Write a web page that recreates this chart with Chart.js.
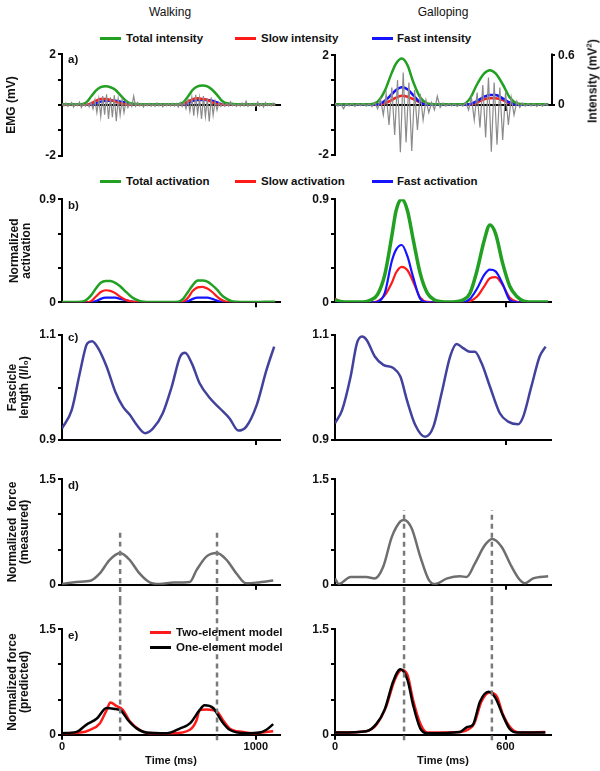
<!DOCTYPE html>
<html><head><meta charset="utf-8">
<title>Walking vs galloping: EMG, activation, fascicle length, force</title>
<style>
body{margin:0;width:600px;height:771px;position:relative;background:#fff;overflow:hidden;font-family:'Liberation Sans',Arial,sans-serif;color:#111}
canvas{position:absolute}
.c{position:absolute;transform:translate(-50%,-50%);white-space:nowrap}
.lg{position:absolute;font:bold 11.5px 'Liberation Sans',Arial,sans-serif;line-height:14px;white-space:nowrap}
.sw{position:absolute;height:3px;width:21px}
</style>
</head>
<body>
<div class="c" style="left:170px;top:12px;font-size:12px">Walking</div>
<div class="c" style="left:443px;top:12px;font-size:12px">Galloping</div>

<div class="sw" style="left:100px;top:36.5px;background:#22a022"></div><div class="lg" style="left:126px;top:31px">Total intensity</div>
<div class="sw" style="left:235px;top:36.5px;background:#ff1a1a"></div><div class="lg" style="left:261px;top:31px">Slow intensity</div>
<div class="sw" style="left:372px;top:36.5px;background:#1414ff"></div><div class="lg" style="left:397px;top:31px">Fast intensity</div>

<div class="sw" style="left:100px;top:179.5px;background:#22a022"></div><div class="lg" style="left:126px;top:174px">Total activation</div>
<div class="sw" style="left:235px;top:179.5px;background:#ff1a1a"></div><div class="lg" style="left:261px;top:174px">Slow activation</div>
<div class="sw" style="left:372px;top:179.5px;background:#1414ff"></div><div class="lg" style="left:397px;top:174px">Fast activation</div>

<canvas id="wa" width="300" height="120" style="left:0;top:45px"></canvas>
<canvas id="ga" width="300" height="120" style="left:300px;top:45px"></canvas>
<canvas id="wb" width="300" height="125" style="left:0;top:190px"></canvas>
<canvas id="gb" width="300" height="125" style="left:300px;top:190px"></canvas>
<canvas id="wc" width="300" height="130" style="left:0;top:325px"></canvas>
<canvas id="gc" width="300" height="130" style="left:300px;top:325px"></canvas>
<canvas id="wd" width="300" height="135" style="left:0;top:465px"></canvas>
<canvas id="gd" width="300" height="135" style="left:300px;top:465px"></canvas>
<canvas id="we" width="300" height="171" style="left:0;top:600px"></canvas>
<canvas id="ge" width="300" height="171" style="left:300px;top:600px"></canvas>

<div class="c" style="left:592px;top:81px;transform:translate(-50%,-50%) rotate(-90deg);font:bold 12px 'Liberation Sans',Arial,sans-serif">Intensity (mV<sup style="font-size:8px">2</sup>)</div>

<div class="lg" style="left:68px;top:51.5px">a)</div>
<div class="lg" style="left:68px;top:198px">b)</div>
<div class="lg" style="left:68px;top:330px">c)</div>
<div class="lg" style="left:68px;top:478px">d)</div>
<div class="lg" style="left:68px;top:627.5px">e)</div>

<div class="sw" style="left:150px;top:630.5px;background:#ff1a1a"></div><div class="lg" style="left:176px;top:625px">Two-element model</div>
<div class="sw" style="left:150px;top:645.5px;background:#000"></div><div class="lg" style="left:176px;top:640px">One-element model</div>

<script src="https://cdn.jsdelivr.net/npm/chart.js"></script>
<script>
// ---------- walking ----------
const walkEmgStep = 10; // ms between raw EMG samples
const walkEmg = [0.05,-0.04,0.08,-0.06,0.03,0.10,-0.08,0.06,-0.03,0.12,-0.10,0.04,-0.05,0.09,-0.07,
  0.10,-0.15,0.20,-0.30,0.25,-0.45,0.35,-0.38,0.42,-0.55,0.30,-0.48,0.38,-0.64,0.25,-0.40,0.20,-0.30,0.12,-0.10,
  0.08,-0.06,0.35,-0.05,0.10,-0.04,0.06,-0.08,0.05,-0.03,0.07,-0.05,0.04,-0.06,0.08,-0.04,0.05,-0.07,0.06,-0.03,0.05,-0.04,0.07,-0.05,0.06,-0.08,0.10,-0.06,0.12,-0.15,
  0.20,-0.25,0.30,-0.42,0.40,-0.35,0.28,-0.55,0.35,-0.45,0.25,-0.65,0.30,-0.40,0.15,-0.20,
  0.10,-0.06,0.08,-0.05,0.06,-0.04,0.12,-0.03,0.05,-0.06,0.04,-0.05,0.08,-0.04,0.15,-0.06,0.05,-0.03,0.07,-0.05,0.12,-0.04,0.06,-0.08,0.10,-0.03,0.05,-0.04,0.08,-0.02];
const walkIntT = [0,50,100,125,150,175,200,225,250,275,300,325,350,400,500,600,625,650,675,700,725,750,775,800,825,850,900,1000,1100];
const walkIntTotal = [0.01,0.01,0.01,0.03,0.10,0.17,0.21,0.22,0.21,0.18,0.12,0.06,0.02,0.01,0.01,0.01,0.03,0.10,0.18,0.22,0.23,0.22,0.18,0.12,0.05,0.02,0.01,0.01,0.01];
const walkIntSlow = [0.005,0.005,0.005,0.005,0.02,0.05,0.07,0.07,0.06,0.04,0.02,0.01,0.005,0.005,0.005,0.005,0.01,0.04,0.07,0.08,0.07,0.06,0.03,0.01,0.005,0.005,0.005,0.005,0.005];
const walkIntFast = [0.005,0.005,0.005,0.005,0.005,0.02,0.04,0.05,0.05,0.05,0.04,0.03,0.01,0.005,0.005,0.005,0.005,0.02,0.05,0.06,0.06,0.06,0.05,0.03,0.01,0.005,0.005,0.005,0.005];
const walkActT = [0,50,100,125,150,175,200,225,250,275,300,325,350,375,400,425,450,500,550,600,625,650,675,700,725,750,775,800,825,850,875,900,950,1000,1050,1100];
const walkActTotal = [0.003,0.003,0.005,0.02,0.06,0.12,0.17,0.187,0.185,0.17,0.14,0.10,0.06,0.03,0.012,0.004,0.002,0.002,0.003,0.005,0.03,0.09,0.15,0.19,0.19,0.18,0.15,0.11,0.06,0.03,0.01,0.004,0.002,0.002,0.005,0.005];
const walkActSlow = [0,0,0,0,0.01,0.05,0.09,0.105,0.10,0.08,0.05,0.025,0.01,0.003,0,0,0,0,0,0,0.005,0.04,0.10,0.13,0.135,0.12,0.09,0.05,0.02,0.005,0,0,0,0,0,0];
const walkActFast = [0,0,0,0,0,0.01,0.03,0.04,0.04,0.04,0.03,0.02,0.01,0.003,0,0,0,0,0,0,0,0.01,0.03,0.04,0.04,0.04,0.03,0.015,0.005,0,0,0,0,0,0,0];
const walkFasT = [0,50,95,130,155,185,230,275,315,350,385,430,470,520,565,610,635,670,710,765,815,865,910,950,1005,1055,1095];
const walkFas = [0.922,0.957,1.033,1.084,1.088,1.076,1.040,0.992,0.963,0.948,0.929,0.913,0.922,0.951,1.000,1.059,1.066,1.046,1.008,0.979,0.960,0.941,0.918,0.925,0.967,1.033,1.078];
const walkForceT = [0,75,150,195,245,300,350,400,455,505,575,660,695,745,800,850,900,950,1005,1090];
const walkForce = [0.01,0.04,0.06,0.16,0.35,0.45,0.35,0.16,0.03,0.01,0.03,0.04,0.21,0.40,0.45,0.35,0.16,0.02,0.03,0.06];
const walkTwoT = [0,95,145,195,230,250,280,315,350,400,455,575,660,695,710,745,800,830,865,935,985,1090];
const walkTwo = [0.02,0.03,0.07,0.16,0.35,0.46,0.41,0.35,0.19,0.07,0.02,0.02,0.07,0.21,0.35,0.36,0.33,0.21,0.09,0.04,0.02,0.05];
const walkOneT = [0,75,125,180,230,265,305,340,385,435,540,610,660,710,735,780,825,865,950,1020,1055,1090];
const walkOne = [0.02,0.04,0.14,0.23,0.38,0.37,0.34,0.21,0.09,0.03,0.02,0.09,0.16,0.35,0.42,0.38,0.19,0.07,0.02,0.03,0.07,0.15];
const walkPeakT = [300, 800];

// ---------- galloping ----------
const gallEmgStep = 10;
const gallEmg = [0.08,-0.05,0.06,-0.15,0.05,-0.04,0.07,-0.06,0.05,-0.03,0.06,-0.05,0.04,-0.06,
  0.10,-0.15,0.25,-0.40,0.45,-0.80,0.70,-1.20,1.00,-1.90,1.30,-1.50,0.90,-1.85,0.60,-1.00,0.45,-0.60,0.20,-0.30,
  0.10,-0.20,0.35,-0.10,0.08,-0.05,0.06,-0.04,0.05,-0.06,0.04,-0.05,0.10,
  -0.20,0.30,-0.60,0.50,-0.90,0.80,-1.30,1.10,-1.88,0.90,-1.60,0.70,-1.40,0.50,-0.80,0.30,-0.40,0.15,
  -0.10,0.08,-0.05,0.06,-0.04,0.05,-0.06,0.04,-0.05,0.06,-0.03];
const gallIntT = [0,50,100,125,150,175,200,215,235,255,275,300,325,350,400,450,475,500,525,545,565,590,615,640,670,700,750];
const gallIntTotal = [0.01,0.01,0.01,0.01,0.04,0.17,0.39,0.50,0.56,0.48,0.28,0.09,0.02,0.01,0.01,0.01,0.08,0.25,0.38,0.42,0.38,0.25,0.09,0.02,0.01,0.01,0.01];
const gallIntFast = [0.005,0.005,0.005,0.005,0.005,0.05,0.13,0.18,0.215,0.19,0.12,0.03,0.005,0.005,0.005,0.005,0.01,0.05,0.10,0.12,0.12,0.08,0.03,0.005,0.005,0.005,0.005];
const gallIntSlow = [0.005,0.005,0.005,0.005,0.005,0.02,0.06,0.09,0.11,0.10,0.07,0.03,0.01,0.005,0.005,0.005,0.005,0.03,0.07,0.08,0.08,0.06,0.02,0.01,0.005,0.005,0.005];
const gallActT = [0,25,50,100,125,150,175,200,215,235,255,275,300,325,350,375,400,425,450,475,500,525,545,565,590,615,640,665,700,750];
const gallActTotal = [0.02,0.005,0.002,0.003,0.02,0.07,0.24,0.58,0.80,0.90,0.80,0.55,0.25,0.08,0.02,0.005,0.002,0.005,0.02,0.08,0.28,0.54,0.675,0.60,0.34,0.14,0.05,0.01,0.002,0.002];
const gallActFast = [0,0,0,0,0,0.005,0.08,0.36,0.46,0.50,0.40,0.22,0.03,0,0,0,0,0,0,0.03,0.12,0.24,0.285,0.27,0.16,0.02,0,0,0,0];
const gallActSlow = [0.03,0.005,0,0,0,0.01,0.06,0.17,0.26,0.31,0.28,0.18,0.04,0.003,0,0,0,0,0,0.01,0.05,0.14,0.21,0.22,0.15,0.04,0.005,0,0,0];
const gallFasT = [0,25,55,77,95,112,140,170,205,230,253,282,317,346,375,405,428,451,475,492,516,545,580,609,644,662,691,720,741];
const gallFas = [0.932,0.957,1.021,1.084,1.097,1.090,1.059,1.043,1.037,1.021,0.976,0.929,0.906,0.925,0.989,1.059,1.083,1.075,1.068,1.068,1.046,1.002,0.951,0.935,0.930,0.944,1.002,1.059,1.078];
const gallForceT = [0,13,55,110,140,170,200,230,243,270,300,330,352,395,440,463,492,527,553,586,621,650,668,697,750];
const gallForce = [0.09,0.01,0.11,0.11,0.09,0.26,0.68,0.90,0.92,0.80,0.40,0.07,0.01,0.09,0.12,0.11,0.30,0.56,0.65,0.54,0.26,0.07,0.02,0.09,0.12];
const gallTwoT = [0,110,145,180,210,235,255,275,300,325,440,475,490,515,545,570,590,620,650,740];
const gallTwo = [0.03,0.05,0.14,0.40,0.78,0.92,0.85,0.49,0.16,0.03,0.04,0.09,0.16,0.47,0.60,0.54,0.30,0.09,0.03,0.04];
const gallOneT = [0,110,145,175,205,230,255,275,300,325,440,465,485,510,540,565,590,615,640,740];
const gallOne = [0.03,0.05,0.15,0.36,0.76,0.93,0.78,0.42,0.09,0.02,0.04,0.11,0.14,0.47,0.61,0.52,0.28,0.08,0.03,0.03];
const gallPeakT = [243, 552];

const GREEN = '#22a022', RED = '#ff1a1a', BLUE = '#1414ff', EMG = '#8a8a8a', FAS = '#42429e', FORCE = '#6e6e6e', DASH = '#7a7a7a';

Chart.defaults.font.family = "'Liberation Sans', Arial, sans-serif";
Chart.defaults.color = '#111';

const pts = (xs, ys) => xs.map((x, i) => ({x: x, y: ys[i]}));
const stepPts = (step, ys) => ys.map((y, i) => ({x: i * step, y: y}));

function line(data, color, width, extra) {
  return Object.assign({data: data, borderColor: color, borderWidth: width, pointRadius: 0, fill: false,
    cubicInterpolationMode: 'monotone'}, extra || {});
}
function dashes(xs, lo, hi) {
  return xs.map(x => line([{x: x, y: lo}, {x: x, y: hi}], DASH, 2.5, {borderDash: [5, 4], clip: false}));
}

function yScale(min, max, ticks, shown, width, title, titlePad) {
  return {
    type: 'linear', min: min, max: max,
    afterFit: s => { s.width = width; },
    afterBuildTicks: s => { s.ticks = ticks.map(v => ({value: v})); },
    ticks: {autoSkip: false, padding: 2, font: {size: 12, weight: 'bold'}, color: '#111',
      callback: v => shown.includes(v) ? String(v) : ''},
    grid: {drawOnChartArea: false, tickLength: 4, lineWidth: 2, color: '#000'},
    border: {width: 2, color: '#000'},
    title: title ? {display: true, text: title, color: '#111',
      font: {size: 12, weight: 'bold', lineHeight: title.length > 1 ? 1.0 : 1.2},
      padding: {top: titlePad, bottom: 0}} : {display: false}
  };
}

function xScale(max, tickVals, shown, height, pos, title) {
  return {
    type: 'linear', min: 0, max: max, position: pos || 'bottom',
    afterFit: s => { s.height = height; },
    afterBuildTicks: s => { s.ticks = tickVals.map(v => ({value: v})); },
    ticks: {autoSkip: false, maxRotation: 0, padding: 1, font: {size: 11, weight: 'bold'}, color: '#111',
      callback: v => shown.includes(v) ? String(v) : ''},
    grid: {drawOnChartArea: false, tickLength: 5, lineWidth: 2, color: '#000'},
    border: {width: 2, color: '#000'},
    title: title ? {display: true, text: title, color: '#111', font: {size: 11, weight: 'bold'},
      padding: {top: 0, bottom: 3}} : {display: false}
  };
}

function panel(id, datasets, scales, pad, plugins) {
  return new Chart(document.getElementById(id), {
    type: 'line',
    data: {datasets: datasets},
    options: {responsive: false, animation: false, events: [], layout: {padding: pad}, scales: scales,
      plugins: {legend: {display: false}, tooltip: {enabled: false}}},
    plugins: plugins || []
  });
}

// right-hand intensity axis only spans 0..0.6
const halfAxis = {
  id: 'halfAxis',
  afterDraw(chart) {
    const s = chart.scales.y1, c = chart.ctx;
    c.save(); c.strokeStyle = '#000'; c.lineWidth = 2;
    c.beginPath(); c.moveTo(s.left + 1, s.getPixelForValue(0)); c.lineTo(s.left + 1, s.getPixelForValue(0.62)); c.stroke();
    c.restore();
  }
};

const WMAX = 1125, GMAX = 760;
const intAxis = (show, width) => ({type: 'linear', display: show, position: 'right', min: -0.6, max: 0.6,
  afterFit: s => { s.width = width; },
  afterBuildTicks: s => { s.ticks = [{value: 0}, {value: 0.6}]; },
  ticks: {padding: 3, font: {size: 12, weight: 'bold'}, color: '#111', callback: v => String(v)},
  grid: {drawOnChartArea: false, tickLength: 4, lineWidth: 2, color: '#000'},
  border: {display: false}});

// a) EMG + intensities
panel('wa', [
  line(stepPts(walkEmgStep, walkEmg), EMG, 1.2, {cubicInterpolationMode: 'default', tension: 0}),
  line(pts(walkIntT, walkIntTotal), GREEN, 2.5, {yAxisID: 'y1'}),
  line(pts(walkIntT, walkIntSlow), RED, 2.5, {yAxisID: 'y1'}),
  line(pts(walkIntT, walkIntFast), BLUE, 2.5, {yAxisID: 'y1'})
], {
  x: xScale(WMAX, [1000], [], 8, {y: 0}),
  y: yScale(-2, 2, [-2, -1, 0, 1, 2], [2, -2], 62, ['EMG (mV)'], 4),
  y1: intAxis(false, 0)
}, {top: 8.3, bottom: 5.7, left: 0, right: 20});

panel('ga', [
  line(stepPts(gallEmgStep, gallEmg), EMG, 1.2, {cubicInterpolationMode: 'default', tension: 0}),
  line(pts(gallIntT, gallIntTotal), GREEN, 2.5, {yAxisID: 'y1'}),
  line(pts(gallIntT, gallIntFast), BLUE, 2.5, {yAxisID: 'y1'}),
  line(pts(gallIntT, gallIntSlow), RED, 2.5, {yAxisID: 'y1'})
], {
  x: xScale(GMAX, [600], [], 8, {y: 0}),
  y: yScale(-2, 2, [-2, -1, 0, 1, 2], [2, -2], 35),
  y1: intAxis(true, 49)
}, {top: 8.3, bottom: 5.7, left: 0, right: 0}, [halfAxis]);

// b) activation
panel('wb', [
  line(pts(walkActT, walkActTotal), GREEN, 2.5),
  line(pts(walkActT, walkActSlow), RED, 2.2),
  line(pts(walkActT, walkActFast), BLUE, 2.2)
], {
  x: xScale(WMAX, [1000], [], 10),
  y: yScale(0, 0.9, [0, 0.3, 0.6, 0.9], [0, 0.9], 62, ['Normalized', 'activation'], 9)
}, {top: 8.3, bottom: 2.7, left: 0, right: 20});

panel('gb', [
  line(pts(gallActT, gallActTotal), GREEN, 3.5),
  line(pts(gallActT, gallActFast), BLUE, 2.2),
  line(pts(gallActT, gallActSlow), RED, 2.2)
], {
  x: xScale(GMAX, [600], [], 10),
  y: yScale(0, 0.9, [0, 0.3, 0.6, 0.9], [0, 0.9], 35)
}, {top: 8.3, bottom: 2.7, left: 0, right: 49});

// c) fascicle length
panel('wc', [line(pts(walkFasT, walkFas), FAS, 2.5)], {
  x: xScale(WMAX, [1000], [], 10),
  y: yScale(0.9, 1.1, [0.9, 1.0, 1.1], [0.9, 1.1], 62, ['Fascicle', 'length (l/l\u2080)'], 6.5)
}, {top: 10, bottom: 5, left: 0, right: 20});

panel('gc', [line(pts(gallFasT, gallFas), FAS, 2.5)], {
  x: xScale(GMAX, [600], [], 10),
  y: yScale(0.9, 1.1, [0.9, 1.0, 1.1], [0.9, 1.1], 35)
}, {top: 10, bottom: 5, left: 0, right: 49});

// d) measured force
panel('wd', dashes(walkPeakT, -0.23, 0.76).concat([line(pts(walkForceT, walkForce), FORCE, 2.5)]), {
  x: xScale(WMAX, [1000], [], 10),
  y: yScale(0, 1.5, [0, 0.5, 1, 1.5], [0, 1.5], 62, ['Normalized  force', '(measured)'], 6.5)
}, {top: 14.3, bottom: 5.3, left: 0, right: 20});

panel('gd', dashes(gallPeakT, -0.23, 1.06).concat([line(pts(gallForceT, gallForce), FORCE, 2.5)]), {
  x: xScale(GMAX, [600], [], 10),
  y: yScale(0, 1.5, [0, 0.5, 1, 1.5], [0, 1.5], 35)
}, {top: 14.3, bottom: 5.3, left: 0, right: 49});

// e) predicted force
panel('we', dashes(walkPeakT, -0.08, 2.2).concat([
  line(pts(walkOneT, walkOne), '#000', 2.5),
  line(pts(walkTwoT, walkTwo), RED, 2.5)
]), {
  x: xScale(WMAX, [0, 1000], [0, 1000], 36, 'bottom', 'Time (ms)'),
  y: yScale(0, 1.5, [0, 0.5, 1, 1.5], [0, 1.5], 62, ['Normalized force', '(predicted)'], 6.5)
}, {top: 29.3, bottom: 0.3, left: 0, right: 20});

panel('ge', dashes(gallPeakT, -0.08, 2.2).concat([
  line(pts(gallOneT, gallOne), '#000', 2.5),
  line(pts(gallTwoT, gallTwo), RED, 2.5)
]), {
  x: xScale(GMAX, [0, 600], [0, 600], 36, 'bottom', 'Time (ms)'),
  y: yScale(0, 1.5, [0, 0.5, 1, 1.5], [0, 1.5], 35)
}, {top: 29.3, bottom: 0.3, left: 0, right: 49});
</script>
</body></html>
